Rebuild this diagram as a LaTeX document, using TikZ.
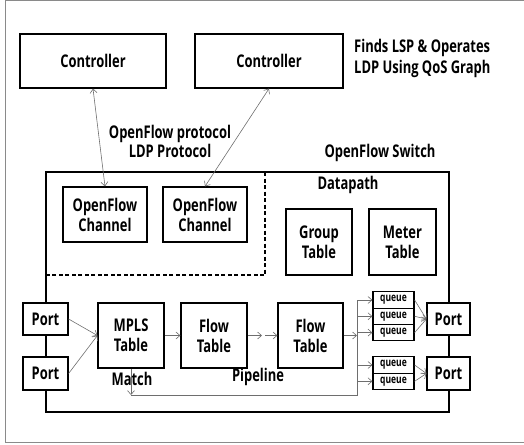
\documentclass[tikz,border=0pt]{standalone}
\usepackage{fontspec}
\setmainfont{Open Sans}[FakeStretch=0.74]
\definecolor{LINKcolor}{HTML}{6e6e6e}
\definecolor{FRAMEcolor}{HTML}{8a8a8a}
\usepackage{tikz}
\usetikzlibrary{calc, arrows.meta}

\begin{document}
\begin{tikzpicture}[x=1pt, y=-1pt]
    \tikzset{%
        box/.style={draw, line width=1.2pt, fill=white, align=center, inner sep=0pt,
                font=\fontsize{17.5}{20}\selectfont\bfseries},
        queuebox/.style={draw, line width=1.2pt, fill=white, inner sep=0pt,
                minimum width=41pt, minimum height=16.3pt,
                font=\fontsize{11.5}{12}\selectfont\bfseries},
        lbl/.style={align=center, inner sep=0pt, font=\fontsize{17.5}{19}\selectfont\bfseries},
        link/.style={draw=LINKcolor, line width=0.6pt},
        flow/.style={link, -{Straight Barb[length=4pt, width=7pt]}},
        flows/.style={link, {Straight Barb[length=4pt, width=7pt]}-{Straight Barb[length=4pt, width=7pt]}},
    }

    \useasboundingbox (0, 0) rectangle (524, 444);
    \draw [FRAMEcolor, line width=1pt] (524, 1) -- (5, 1) -- (5, 442) -- (524, 442);

    % controllers
    \node (ctrlA) at (93, 61) [box, minimum width=146pt, minimum height=54pt] {Controller};
    \node (ctrlB) at (269, 61) [box, minimum width=148pt, minimum height=54pt] {Controller};
    \node (finds) at (354, 58.5) [lbl, anchor=west, align=left,
        font=\fontsize{17.5}{21}\selectfont\bfseries] {Finds LSP \& Operates\\LDP Using QoS Graph};
    \node (proto) at (170, 141) [lbl] {OpenFlow protocol\\LDP Protocol};

    % switch
    \node (switch) at (247.5, 292) [draw, line width=1.2pt, minimum width=403pt, minimum height=240pt] {};
    \node (swlbl) at (380, 153) [lbl] {OpenFlow Switch};
    \coordinate (dashTop) at (265, 172);
    \coordinate (dashCorner) at (265, 275);
    \coordinate (dashLeft) at (46, 275);
    \draw [line width=1.2pt, dash pattern=on 4pt off 2.5pt] (dashTop) -- (dashCorner) -- (dashLeft);

    \node (chanA) at (105, 214.5) [box, minimum width=84pt, minimum height=55pt] {OpenFlow\\Channel};
    \node (chanB) at (205, 214.5) [box, minimum width=84pt, minimum height=55pt] {OpenFlow\\Channel};
    \node (datapath) at (348, 185) [lbl] {Datapath};
    \node (group) at (319, 242) [box, minimum width=66pt, minimum height=66pt] {Group\\Table};
    \node (meter) at (402.5, 242) [box, minimum width=67pt, minimum height=66pt] {Meter\\Table};

    % pipeline
    \node (portA) at (45.5, 319) [box, minimum width=45pt, minimum height=32pt] {Port};
    \node (portB) at (45.5, 373.5) [box, minimum width=45pt, minimum height=33pt] {Port};
    \node (mpls) at (131, 335.5) [box, minimum width=66pt, minimum height=65pt] {MPLS\\Table};
    \node (flowA) at (214, 335.5) [box, minimum width=66pt, minimum height=65pt] {Flow\\Table};
    \node (flowB) at (310.5, 335.5) [box, minimum width=65pt, minimum height=65pt] {Flow\\Table};
    \foreach \name/\y in {qA/300, qB/316.3, qC/332.6, qD/365, qE/381.3} {%
            \node (\name) at (393.5, \y) [queuebox] {queue};
        };
    \node (portC) at (448.5, 319) [box, minimum width=43pt, minimum height=32pt] {Port};
    \node (portD) at (448.5, 373.5) [box, minimum width=43pt, minimum height=33pt] {Port};

    \draw [flows] (ctrlA.south) -- (chanA.north);
    \draw [flows] (ctrlB.south) -- (chanB.north);

    \draw [flow] (portA.east) -- (mpls.west);
    \draw [flow] (portB.east) -- (mpls.west);
    \draw [flow] (mpls.east) -- (flowA.west);
    \coordinate (gapA) at (262, 335.5);
    \coordinate (gapB) at (265, 335.5);
    \draw [flow] (flowA.east) -- (gapA);
    \draw [flow] (gapB) -- (flowB.west);

    \coordinate (split) at (357, 335.5);
    \coordinate (splitTop) at (357, 300);
    \coordinate (splitBot) at (357, 395);
    \coordinate (loop) at (131, 395);
    \draw [flow] (flowB.east) -- (split);
    \draw [link] (splitTop) -- (splitBot) -- (loop);
    \draw [flow] (mpls.south) -- (loop);
    \foreach \q in {qA, qB, qC, qD, qE} {%
            \draw [flow] (split |- \q.west) -- (\q.west);
        };
    \foreach \q in {qA, qB, qC} {%
            \draw [flow] (\q.east) -- (portC.west);
        };
    \foreach \q in {qD, qE} {%
            \draw [flow] (\q.east) -- (portD.west);
        };

    \node (match) at (132, 379) [lbl] {Match};
    \node (pipeline) at (258, 377) [lbl] {Pipeline};
\end{tikzpicture}
\end{document}
